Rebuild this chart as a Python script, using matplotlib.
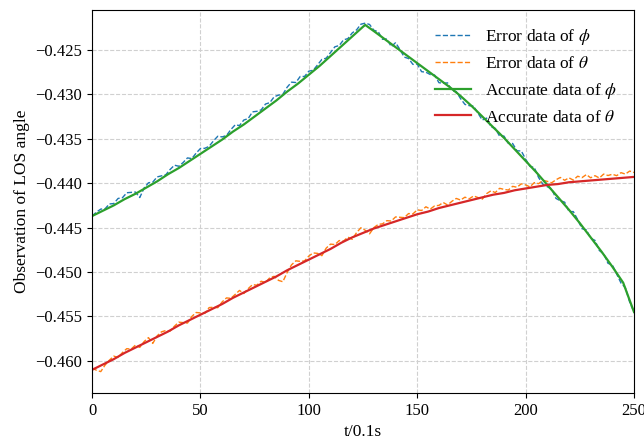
import matplotlib
matplotlib.use('Agg')
import matplotlib.pyplot as plt

plt.rcParams['font.family'] = ['Liberation Serif', 'DejaVu Serif']
plt.rcParams['mathtext.fontset'] = 'stix'
plt.rcParams['font.size'] = 12

# accurate curves
t_acc = [0, 5, 10, 15, 20, 25, 30, 35, 40, 45, 50, 55, 60, 65, 70, 75, 80, 85, 90, 95,
         100, 105, 110, 115, 120, 125, 126, 130, 135, 140, 145, 150, 155, 160, 165, 170,
         175, 180, 185, 190, 195, 200, 205, 210, 215, 220, 225, 230, 235, 240, 245, 250]
phi_acc = [-0.4437, -0.4431, -0.4425, -0.4418, -0.4412, -0.4405, -0.4398, -0.4390, -0.4383,
           -0.4375, -0.4367, -0.4359, -0.4351, -0.4342, -0.4334, -0.4325, -0.4316, -0.4307,
           -0.4297, -0.4288, -0.4278, -0.4268, -0.4257, -0.4246, -0.4235, -0.4224, -0.4222,
           -0.4229, -0.4238, -0.4247, -0.4256, -0.4265, -0.4274, -0.4283, -0.4292, -0.4302,
           -0.4313, -0.4325, -0.4337, -0.4349, -0.4362, -0.4375, -0.4388, -0.4402, -0.4416,
           -0.4430, -0.4445, -0.4461, -0.4477, -0.4494, -0.4512, -0.4545]
theta_acc = [-0.4610, -0.4604, -0.4598, -0.4591, -0.4585, -0.4579, -0.4573, -0.4567, -0.4560,
             -0.4554, -0.4548, -0.4542, -0.4536, -0.4529, -0.4523, -0.4517, -0.4511, -0.4505,
             -0.4498, -0.4492, -0.4486, -0.4480, -0.4474, -0.4467, -0.4461, -0.4456, -0.4455,
             -0.4451, -0.4447, -0.4443, -0.4439, -0.4435, -0.4432, -0.4428, -0.4425, -0.4422,
             -0.4419, -0.4416, -0.4413, -0.4411, -0.4408, -0.4406, -0.4404, -0.4402, -0.4401,
             -0.4399, -0.4398, -0.4397, -0.4396, -0.4395, -0.4394, -0.4393]

# noisy measurements, every 2 time steps
t_err = list(range(0, 251, 2))
phi_err = [-0.44370, -0.44326, -0.44292, -0.44288, -0.44234, -0.44230, -0.44172, -0.44164,
           -0.44108, -0.44104, -0.44100, -0.44162, -0.44054, -0.43996, -0.43988, -0.43930,
           -0.43918, -0.43906, -0.43846, -0.43798, -0.43810, -0.43768, -0.43716, -0.43724,
           -0.43662, -0.43610, -0.43608, -0.43586, -0.43524, -0.43472, -0.43480, -0.43464,
           -0.43398, -0.43344, -0.43352, -0.43290, -0.43274, -0.43198, -0.43192, -0.43176,
           -0.43110, -0.43094, -0.43028, -0.43010, -0.43000, -0.42920, -0.42864, -0.42868,
           -0.42800, -0.42800, -0.42740, -0.42730, -0.42670, -0.42608, -0.42594, -0.42530,
           -0.42466, -0.42452, -0.42388, -0.42374, -0.42310, -0.42276, -0.42212, -0.42200,
           -0.42215, -0.42280, -0.42296, -0.42382, -0.42378, -0.42464, -0.42420, -0.42496,
           -0.42582, -0.42598, -0.42664, -0.42660, -0.42746, -0.42752, -0.42778, -0.42784,
           -0.42870, -0.42876, -0.42872, -0.42960, -0.42970, -0.43050, -0.43114, -0.43128,
           -0.43134, -0.43212, -0.43290, -0.43268, -0.43366, -0.43384, -0.43472, -0.43470,
           -0.43552, -0.43554, -0.43636, -0.43638, -0.43730, -0.43812, -0.43824, -0.43938,
           -0.44014, -0.44040, -0.44066, -0.44172, -0.44198, -0.44214, -0.44320, -0.44320,
           -0.44410, -0.44512, -0.44526, -0.44620, -0.44644, -0.44758, -0.44794, -0.44902,
           -0.44920, -0.45022, -0.45124, -0.45176, -0.45338, -0.45450]
theta_err = [-0.46080, -0.46105, -0.46120, -0.46046, -0.45991, -0.45946, -0.45961, -0.45906,
             -0.45862, -0.45867, -0.45822, -0.45847, -0.45782, -0.45738, -0.45803, -0.45718,
             -0.45673, -0.45658, -0.45664, -0.45609, -0.45564, -0.45569, -0.45574, -0.45500,
             -0.45455, -0.45460, -0.45465, -0.45400, -0.45396, -0.45401, -0.45336, -0.45291,
             -0.45296, -0.45252, -0.45207, -0.45242, -0.45187, -0.45142, -0.45148, -0.45103,
             -0.45118, -0.45063, -0.45048, -0.45094, -0.45109, -0.45004, -0.44919, -0.44874,
             -0.44880, -0.44875, -0.44820, -0.44785, -0.44790, -0.44816, -0.44731, -0.44686,
             -0.44691, -0.44646, -0.44652, -0.44607, -0.44632, -0.44557, -0.44502, -0.44530,
             -0.44570, -0.44500, -0.44464, -0.44458, -0.44422, -0.44426, -0.44380, -0.44384,
             -0.44388, -0.44342, -0.44346, -0.44300, -0.44308, -0.44266, -0.44292, -0.44256,
             -0.44250, -0.44218, -0.44246, -0.44204, -0.44172, -0.44190, -0.44158, -0.44176,
             -0.44144, -0.44162, -0.44180, -0.44118, -0.44086, -0.44106, -0.44058, -0.44070,
             -0.44078, -0.44036, -0.44046, -0.44008, -0.44020, -0.44042, -0.43994, -0.44006,
             -0.43968, -0.43980, -0.43996, -0.43962, -0.43936, -0.43968, -0.43940, -0.43966,
             -0.43922, -0.43938, -0.43904, -0.43940, -0.43916, -0.43942, -0.43898, -0.43914,
             -0.43900, -0.43916, -0.43882, -0.43898, -0.43864, -0.43880]

fig = plt.figure(figsize=(6.44, 4.46), dpi=100)
ax = fig.add_axes([0.143, 0.119, 0.8415, 0.859])

ax.plot(t_err, phi_err, '--', color='C0', lw=1.0, label=r'Error data of $\phi$')
ax.plot(t_err, theta_err, '--', color='C1', lw=1.0, label=r'Error data of $\theta$')
ax.plot(t_acc, phi_acc, '-', color='C2', lw=1.6, label=r'Accurate data of $\phi$')
ax.plot(t_acc, theta_acc, '-', color='C3', lw=1.6, label=r'Accurate data of $\theta$')

ax.set_xlim(0, 250)
ax.set_ylim(-0.4636, -0.4205)
ax.set_xticks([0, 50, 100, 150, 200, 250])
ax.set_yticks([-0.460, -0.455, -0.450, -0.445, -0.440, -0.435, -0.430, -0.425])
ax.set_yticklabels(['\u22120.460', '\u22120.455', '\u22120.450', '\u22120.445',
                    '\u22120.440', '\u22120.435', '\u22120.430', '\u22120.425'])
ax.grid(True, linestyle='--', color='#d0d0d0', lw=0.8)
ax.set_axisbelow(True)
ax.set_xlabel('t/0.1s', fontsize=12.5)
ax.set_ylabel('Observation of LOS angle', fontsize=12.5)
ax.legend(loc='upper right', frameon=False, fontsize=12.5, handlelength=2.1,
          borderaxespad=0.6)

fig.savefig('out.png', dpi=100)
